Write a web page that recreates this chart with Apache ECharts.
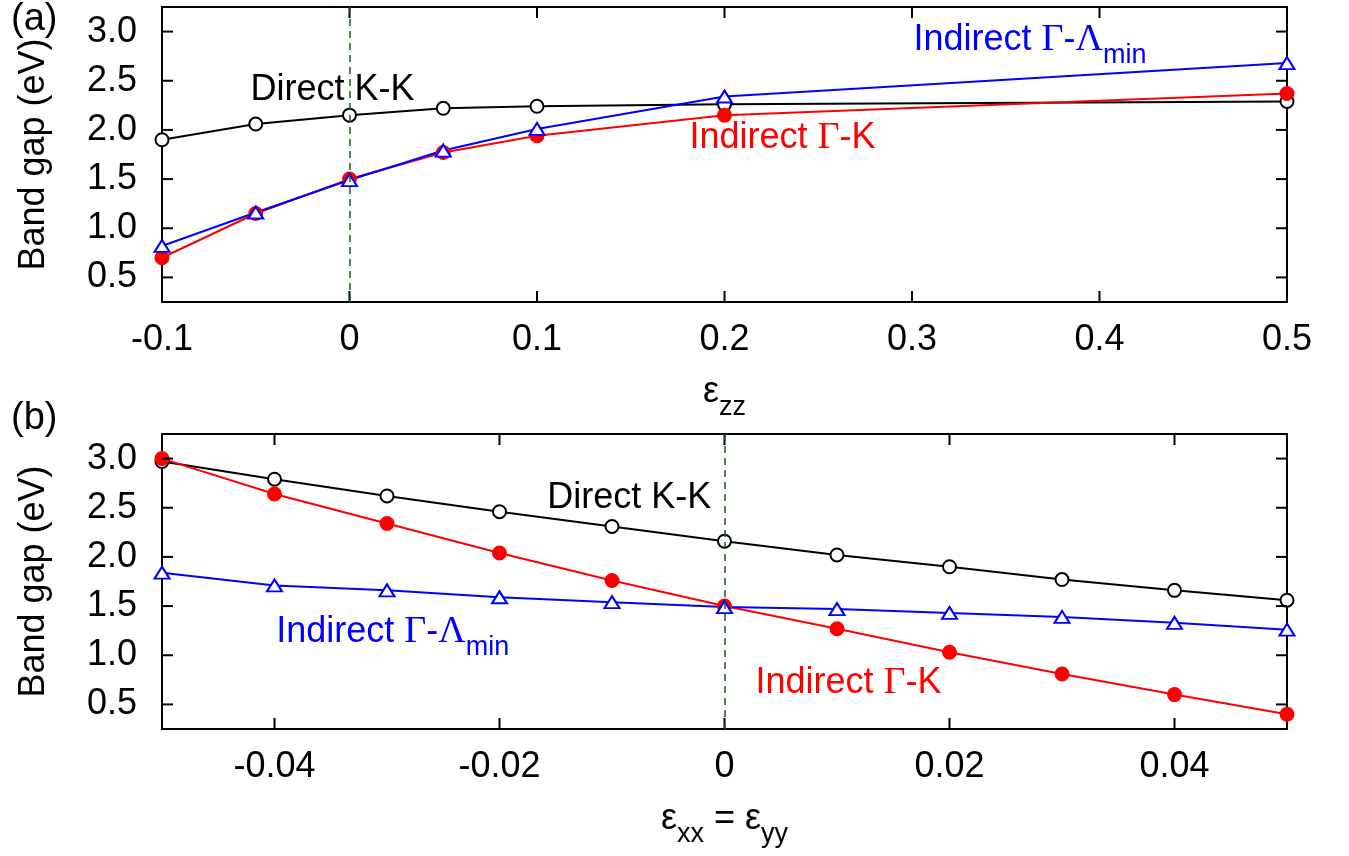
<!DOCTYPE html>
<html>
<head>
<meta charset="utf-8">
<script src="https://cdn.jsdelivr.net/npm/echarts@6/dist/echarts.min.js"></script>
<style>
  html, body { margin: 0; padding: 0; background: #fff; }
  #chart { width: 1349px; height: 856px; }
</style>
</head>
<body>
<div id="chart"></div>
<script>
// (a) strain along z
const strainZZ = [-0.1, -0.05, 0, 0.05, 0.1, 0.2, 0.5];
const directKK_a = [1.90, 2.06, 2.15, 2.22, 2.24, 2.26, 2.29];
const gammaK_a = [0.70, 1.15, 1.50, 1.77, 1.94, 2.15, 2.37];
const gammaLambda_a = [0.82, 1.16, 1.49, 1.79, 2.01, 2.34, 2.68];

// (b) biaxial in-plane strain
const strainXX = [-0.05, -0.04, -0.03, -0.02, -0.01, 0, 0.01, 0.02, 0.03, 0.04, 0.05];
const directKK_b = [2.97, 2.79, 2.62, 2.46, 2.31, 2.16, 2.02, 1.90, 1.77, 1.66, 1.56];
const gammaK_b = [3.00, 2.64, 2.34, 2.04, 1.76, 1.50, 1.27, 1.03, 0.81, 0.60, 0.40];
const gammaLambda_b = [1.84, 1.71, 1.66, 1.59, 1.54, 1.49, 1.47, 1.43, 1.39, 1.33, 1.26];

const yTicks = [0.5, 1.0, 1.5, 2.0, 2.5, 3.0];
const xTicks_a = [-0.1, 0, 0.1, 0.2, 0.3, 0.4, 0.5];
const xTicks_b = [-0.04, -0.02, 0, 0.02, 0.04];

const FONT = 'Liberation Sans';
const FS = 36;
const TICK = 11;
const Y_MIN = 0.25, Y_MAX = 3.25;

function pairs(xs, ys) {
    return xs.map((x, i) => [x, ys[i]]);
}

// tall main line so the bottom-aligned subscript drops below the baseline
const richBase = (color) => ({
    a: { fontFamily: FONT, fontSize: FS, color: color, lineHeight: 58 },
    g: { fontFamily: 'Liberation Serif', fontSize: FS + 2, color: color, lineHeight: 58 },
    s: { fontFamily: FONT, fontSize: 27, color: color, verticalAlign: 'bottom' }
});

function tag(text, coord, color) {
    return {
        coord: coord,
        symbol: 'circle',
        symbolSize: 1,
        itemStyle: { color: 'transparent' },
        label: {
            show: true,
            position: 'right',
            distance: 0,
            formatter: text,
            rich: richBase(color)
        }
    };
}

const axisLine = { show: true, onZero: false, lineStyle: { color: '#000', width: 2 } };

function xAxisPair(gridIndex, min, max, ticks, name) {
    return [
        {
            type: 'value', gridIndex: gridIndex, position: 'bottom', min: min, max: max,
            axisLine: axisLine, axisTick: { show: false }, splitLine: { show: false },
            axisLabel: {
                margin: 20, fontFamily: FONT, fontSize: FS, color: '#000', customValues: ticks,
                formatter: v => String(Math.round(v * 1000) / 1000)
            },
            name: name, nameLocation: 'middle', nameGap: 61,
            nameTextStyle: { rich: richBase('#000') }
        },
        {
            type: 'value', gridIndex: gridIndex, position: 'top', min: min, max: max,
            axisLine: axisLine, axisTick: { show: false }, splitLine: { show: false },
            axisLabel: { show: false }
        }
    ];
}

function yAxisPair(gridIndex) {
    return [
        {
            type: 'value', gridIndex: gridIndex, position: 'left', min: Y_MIN, max: Y_MAX,
            axisLine: axisLine, axisTick: { show: false }, splitLine: { show: false },
            axisLabel: {
                margin: 25, fontFamily: FONT, fontSize: FS, color: '#000', customValues: yTicks,
                formatter: v => v.toFixed(1)
            },
            name: 'Band gap (eV)', nameLocation: 'middle', nameGap: 110, nameRotate: 90,
            nameTextStyle: { fontFamily: FONT, fontSize: FS, color: '#000' }
        },
        {
            type: 'value', gridIndex: gridIndex, position: 'right', min: Y_MIN, max: Y_MAX,
            axisLine: axisLine, axisTick: { show: false }, splitLine: { show: false },
            axisLabel: { show: false }
        }
    ];
}

// inward ticks on all four sides, placed through the axes' own scales
function tickSeries(axisIdx, xMin, xValues) {
    const seg = (x1, y1, x2, y2) => ({
        type: 'line',
        shape: { x1: x1, y1: y1, x2: x2, y2: y2 },
        style: { stroke: '#000', lineWidth: 2 }
    });
    const data = xValues.map(v => [v, Y_MIN, 'x']).concat(yTicks.map(v => [xMin, v, 'y']));
    return {
        type: 'custom',
        xAxisIndex: axisIdx,
        yAxisIndex: axisIdx,
        silent: true,
        clip: false,
        z: 4,
        data: data,
        renderItem: (params, api) => {
            const cs = params.coordSys;
            const p = api.coord([api.value(0), api.value(1)]);
            const kind = data[params.dataIndex][2];
            if (kind === 'x') {
                const bottom = cs.y + cs.height;
                return {
                    type: 'group',
                    children: [
                        seg(p[0], bottom, p[0], bottom - TICK),
                        seg(p[0], cs.y, p[0], cs.y + TICK)
                    ]
                };
            }
            const right = cs.x + cs.width;
            return {
                type: 'group',
                children: [
                    seg(cs.x, p[1], cs.x + TICK, p[1]),
                    seg(right, p[1], right - TICK, p[1])
                ]
            };
        }
    };
}

function lineSeries(xIdx, yIdx, data, color, symbol, size, extra) {
    return Object.assign({
        type: 'line',
        xAxisIndex: xIdx,
        yAxisIndex: yIdx,
        data: data,
        clip: false,
        symbol: symbol,
        symbolSize: size,
        showAllSymbol: true,
        lineStyle: { color: color, width: 2 },
        itemStyle: { color: color, borderColor: color, borderWidth: 2 },
        emphasis: { disabled: true },
        z: 3
    }, extra || {});
}

const zeroLine = {
    silent: true,
    symbol: 'none',
    label: { show: false },
    lineStyle: { type: [7, 5], color: '#1d5a1d', width: 1.5 },
    data: [{ xAxis: 0 }]
};

const chart = echarts.init(document.getElementById('chart'));

const option = {
    animation: false,
    backgroundColor: '#fff',
    title: [
        { text: '(a)', left: 6, top: -4, textStyle: { fontFamily: FONT, fontSize: 38, fontWeight: 'normal', color: '#000' } },
        { text: '(b)', left: 6, top: 395, textStyle: { fontFamily: FONT, fontSize: 38, fontWeight: 'normal', color: '#000' } }
    ],
    grid: [
        { left: 162, right: 62, top: 7, height: 295 },
        { left: 162, right: 62, top: 434, height: 295 }
    ],
    xAxis: [
        ...xAxisPair(0, -0.1, 0.5, xTicks_a, '{a|ε}{s|zz}'),
        ...xAxisPair(1, -0.05, 0.05, xTicks_b, '{a|ε}{s|xx}{a| = ε}{s|yy}')
    ],
    yAxis: [
        ...yAxisPair(0),
        ...yAxisPair(1)
    ],
    series: [
        tickSeries(0, -0.1, xTicks_a),
        tickSeries(2, -0.05, xTicks_b),
        lineSeries(0, 0, pairs(strainZZ, directKK_a), '#000', 'emptyCircle', 13, {
            markLine: zeroLine,
            markPoint: { data: [tag('{a|Direct K-K}', [-0.0531, 2.41], '#000')] }
        }),
        lineSeries(0, 0, pairs(strainZZ, gammaK_a), '#ff0000', 'circle', 13, {
            markPoint: { data: [tag('{a|Indirect }{g|Γ}{a|-K}', [0.181, 1.92], '#ff0000')] }
        }),
        lineSeries(0, 0, pairs(strainZZ, gammaLambda_a), '#0000ff', 'emptyTriangle', [15, 12], {
            markPoint: { data: [tag('{a|Indirect }{g|Γ}{a|-}{g|Λ}{s|min}', [0.3005, 2.91], '#0000ff')] }
        }),
        lineSeries(2, 2, pairs(strainXX, directKK_b), '#000', 'emptyCircle', 13, {
            markLine: zeroLine,
            markPoint: { data: [tag('{a|Direct K-K}', [-0.0158, 2.596], '#000')] }
        }),
        lineSeries(2, 2, pairs(strainXX, gammaK_b), '#ff0000', 'circle', 13, {
            markPoint: { data: [tag('{a|Indirect }{g|Γ}{a|-K}', [0.0027, 0.722], '#ff0000')] }
        }),
        lineSeries(2, 2, pairs(strainXX, gammaLambda_b), '#0000ff', 'emptyTriangle', [15, 12], {
            markPoint: { data: [tag('{a|Indirect }{g|Γ}{a|-}{g|Λ}{s|min}', [-0.0399, 1.233], '#0000ff')] }
        })
    ]
};

chart.setOption(option);
</script>
</body>
</html>
